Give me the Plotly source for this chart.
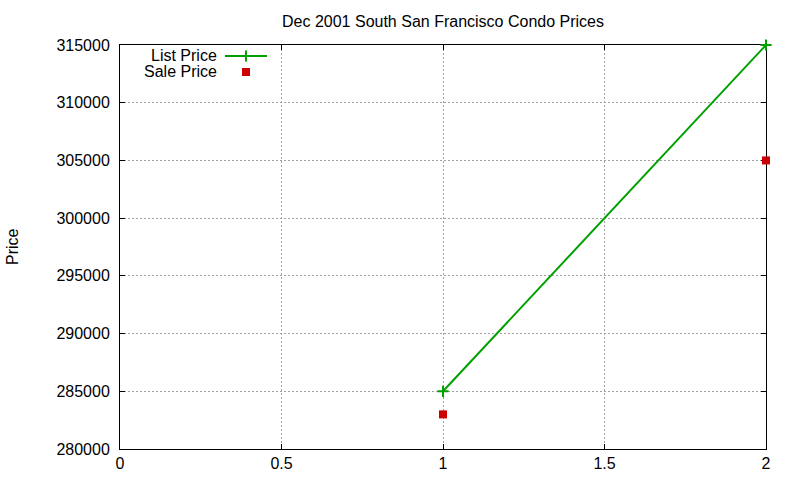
import plotly.graph_objects as go

x_vals = [1, 2]
list_price = [285000, 315000]
sale_price = [283000, 305000]

x_ticks = [0, 0.5, 1, 1.5, 2]
x_tick_labels = ["0", "0.5", "1", "1.5", "2"]
y_ticks = [280000, 285000, 290000, 295000, 300000, 305000, 310000, 315000]

GREEN = "#00a000"
RED = "#cc0000"
FONT = dict(family="Liberation Sans, Arial, sans-serif", size=16, color="black")

L, R, T, B = 120, 766, 45, 449

fig = go.Figure()
fig.add_trace(go.Scatter(x=x_vals, y=list_price, mode="lines+markers",
                         line=dict(color=GREEN, width=2),
                         marker=dict(symbol="cross-thin", size=8,
                                     line=dict(color=GREEN, width=2)),
                         cliponaxis=False, showlegend=False))
fig.add_trace(go.Scatter(x=x_vals, y=sale_price, mode="markers",
                         marker=dict(symbol="square", size=8, color=RED),
                         cliponaxis=False, showlegend=False))

# legend samples on a pixel-mapped overlay axis
fig.add_trace(go.Scatter(x=[225, 267], y=[56, 56], mode="lines",
                         line=dict(color=GREEN, width=2),
                         xaxis="x2", yaxis="y2", showlegend=False, hoverinfo="skip"))
fig.add_trace(go.Scatter(x=[246], y=[56], mode="markers",
                         marker=dict(symbol="cross-thin", size=8,
                                     line=dict(color=GREEN, width=2)),
                         xaxis="x2", yaxis="y2", showlegend=False, hoverinfo="skip"))
fig.add_trace(go.Scatter(x=[246], y=[72], mode="markers",
                         marker=dict(symbol="square", size=8, color=RED),
                         xaxis="x2", yaxis="y2", showlegend=False, hoverinfo="skip"))

axis_common = dict(showline=True, linecolor="black", linewidth=1, mirror="allticks",
                   ticks="inside", ticklen=5, tickcolor="black",
                   showgrid=True, gridcolor="#a0a0a0", griddash="2px,2px", gridwidth=1,
                   zeroline=False, tickfont=FONT, automargin=False,
                   layer="below traces")

fig.update_layout(
    width=800, height=480,
    margin=dict(l=L, r=800 - R, t=T, b=480 - B),
    paper_bgcolor="white", plot_bgcolor="white",
    font=FONT,
    title=dict(text="Dec 2001 South San Francisco Condo Prices", x=0.5, xref="paper",
               y=1 - 21 / 480, yref="container", yanchor="middle", xanchor="center",
               font=FONT, automargin=False),
    xaxis=dict(range=[0, 2], tickvals=x_ticks, ticktext=x_tick_labels, **axis_common),
    yaxis=dict(range=[280000, 315000], tickvals=y_ticks, tickformat="d",
               ticklabelstandoff=6, **axis_common),
    xaxis2=dict(range=[L, R], visible=False, overlaying="x"),
    yaxis2=dict(range=[B, T], visible=False, overlaying="y"),
    annotations=[
        dict(text="List Price", x=219, y=55, xref="x2", yref="y2", xanchor="right",
             yanchor="middle", showarrow=False, font=FONT),
        dict(text="Sale Price", x=219, y=71, xref="x2", yref="y2", xanchor="right",
             yanchor="middle", showarrow=False, font=FONT),
        dict(text="Price", x=(12 - L) / (R - L), y=(B - 247) / (B - T),
             xref="paper", yref="paper", xanchor="center", yanchor="middle",
             textangle=-90, showarrow=False, font=FONT),
    ],
)
fig.write_html("out.html", config={"displayModeBar": False})

with open("out.html", "r", encoding="utf-8") as f:
    html = f.read()
html = html.replace("<body>", '<body style="margin:0;padding:0;overflow:hidden">', 1)
with open("out.html", "w", encoding="utf-8") as f:
    f.write(html)
